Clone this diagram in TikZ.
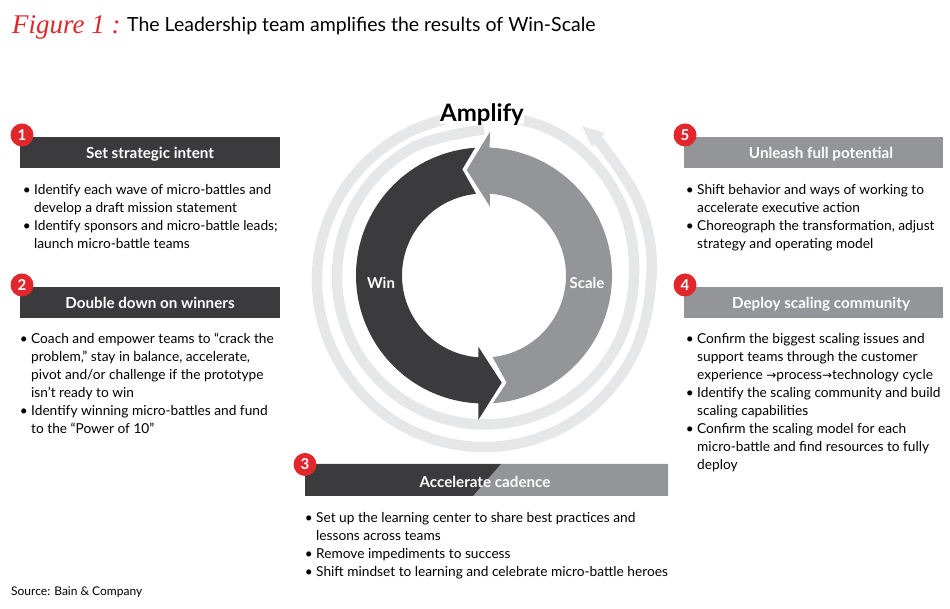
\documentclass[tikz,border=0pt]{standalone}
\usepackage{fontspec}
\usepackage{xcolor}
\usepackage{tikz}
\setmainfont{Lato}
\newfontfamily\arrowfont{DejaVu Sans}
\newfontfamily\handfont{Liberation Serif}
\definecolor{windark}{RGB}{59,59,61}
\definecolor{scalegray}{RGB}{147,149,152}
\definecolor{ringgray}{RGB}{230,231,232}
\definecolor{numred}{RGB}{225,38,44}
\newcommand{\bul}{\leavevmode\llap{\textbullet\hspace{3.5pt}}}
\newcommand{\arr}{{\arrowfont\fontsize{12}{18}\selectfont →}}
\tikzset{
  headtext/.style={inner sep=0pt,text height=15pt,text depth=3.4pt,text=white,font=\fontsize{15.2}{18}\selectfont\bfseries},
  headdark/.style={headtext,fill=windark,minimum width=260pt,minimum height=31pt},
  headgray/.style={headtext,fill=scalegray,minimum width=259pt,minimum height=31pt},
  numdot/.style={circle,fill=numred,text=white,minimum size=23pt,inner sep=0pt,font=\fontsize{15}{15}\selectfont\bfseries},
  bodytext/.style={anchor=north west,align=left,inner sep=0pt,font=\fontsize{13.7}{18}\selectfont}
}
\begin{document}
\begin{tikzpicture}[x=1pt,y=1pt]
\useasboundingbox (0,0) rectangle (950,609);
\node[anchor=west,inner sep=0pt,text=numred,font=\fontsize{27}{27}\selectfont\handfont\itshape] (figlabel) at (12,582) {Figure 1 :};
\node[anchor=west,inner sep=0pt,font=\fontsize{19.5}{24}\selectfont] (figtitle) at (127,583) {The Leadership team amplifies the results of Win-Scale};

\begin{scope}[shift={(484,333.5)}]
\draw[ringgray,line width=10.5pt] plot[smooth,tension=.63] coordinates {(90:146) (120:146.5) (150:147) (180:147) (210:148) (240:148.5) (270:149) (300:149.5) (330:150) (360:150) (390:155) (420:160) (450:160) (480:162) (510:164.5) (540:167) (570:169) (600:171) (630:171.5) (660:171) (690:169) (720:167.5) (745:171) (770:177)};
\fill[ringgray] (98,149.5) -- (121,142.5) -- (108,128.5) -- cycle;
\fill[scalegray] (-17.3,105.5) -- (6,143.8) -- (5.6,127.9) arc[start angle=87.5,end angle=-86,radius=128] -- (22.7,-107.2) -- (-84:82) arc[start angle=-84,end angle=86,radius=82] -- (6,68.8) -- cycle;
\fill[windark] (94:128) arc[start angle=94,end angle=267.5,radius=128] -- (-5.7,-144.5) -- (17.7,-107.2) -- (-5.7,-71.2) -- (266:82) arc[start angle=266,end angle=95.5,radius=82] -- (-21.7,106.2) -- cycle;
\end{scope}
\node[fill=white,inner sep=0pt,minimum width=80pt,text height=16pt,text depth=2pt,font=\fontsize{24}{24}\selectfont\bfseries] (amplify) at (482,494.3) {Amplify};
\node[text=white,font=\fontsize{15}{18}\selectfont\bfseries] (win) at (381,326) {Win};
\node[text=white,font=\fontsize{15}{18}\selectfont\bfseries] (scale) at (587,326) {Scale};

\node[headdark] (intent) at (150,456.5) {Set strategic intent};
\node[numdot] (n1) at (22,474) {1};
\node[bodytext] (intenttext) at (34,425) {\bul Identify each wave of micro-battles and\\develop a draft mission statement\\\bul Identify sponsors and micro-battle leads;\\launch micro-battle teams};

\node[headdark] (winners) at (150,306.5) {Double down on winners};
\node[numdot] (n2) at (22,324) {2};
\node[bodytext] (winnerstext) at (31,276) {\bul Coach and empower teams to “crack the\\problem,” stay in balance, accelerate,\\pivot and/or challenge if the prototype\\isn’t ready to win\\\bul Identify winning micro-battles and fund\\to the “Power of 10”};

\fill[scalegray] (473,113) -- (668,113) -- (668,145) -- (501,145) -- cycle;
\fill[windark] (305,113) -- (473,113) -- (501,145) -- (305,145) -- cycle;
\node[headtext] (cadence) at (485,127.5) {Accelerate cadence};
\node[numdot] (n3) at (305,144.5) {3};
\node[bodytext] (cadencetext) at (316,97) {\bul Set up the learning center to share best practices and\\lessons across teams\\\bul Remove impediments to success\\\bul Shift mindset to learning and celebrate micro-battle heroes};

\node[headgray] (potential) at (813.5,456.5) {\hspace{15pt}Unleash full potential};
\node[numdot] (n5) at (685,474) {5};
\node[bodytext] (potentialtext) at (697,425) {\bul Shift behavior and ways of working to\\accelerate executive action\\\bul Choreograph the transformation, adjust\\strategy and operating model};

\node[headgray] (community) at (813.5,306.5) {\hspace{15pt}Deploy scaling community};
\node[numdot] (n4) at (685,324) {4};
\node[bodytext] (communitytext) at (697,276) {\bul Confirm the biggest scaling issues and\\support teams through the customer\\experience \arr process\arr technology cycle\\\bul Identify the scaling community and build\\scaling capabilities\\\bul Confirm the scaling model for each\\micro-battle and find resources to fully\\deploy};

\node[anchor=west,inner sep=0pt,font=\fontsize{12}{14}\selectfont] (source) at (11,16.5) {Source: Bain \& Company};
\end{tikzpicture}
\end{document}
